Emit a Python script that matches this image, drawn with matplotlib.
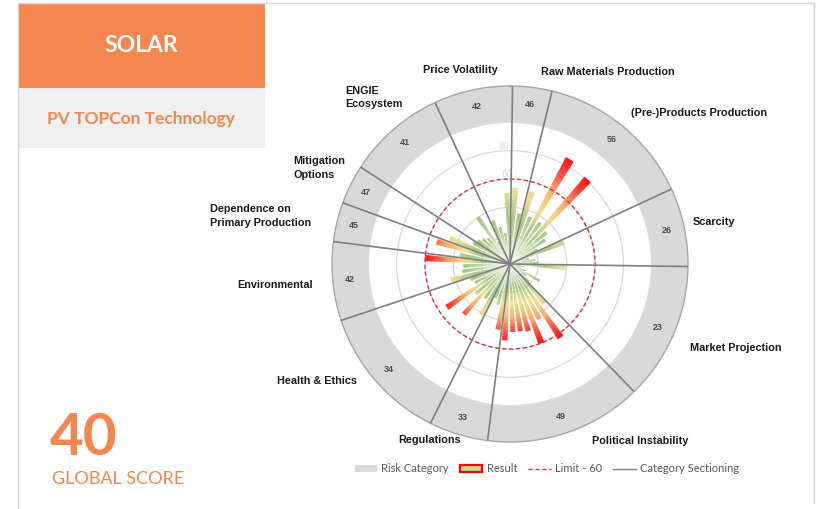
import numpy as np
import matplotlib
matplotlib.use("Agg")
import matplotlib.pyplot as plt
from matplotlib.colors import LinearSegmentedColormap
from matplotlib.patches import Patch, Rectangle
from matplotlib.lines import Line2D


# -----------------------------
# data
# -----------------------------
categories = ["Price Volatility", "Raw Materials Production", "(Pre-)Products Production",
              "Scarcity", "Market Projection", "Political Instability", "Regulations",
              "Health & Ethics", "Environmental", "Dependence on\nPrimary Production",
              "Mitigation\nOptions", "ENGIE\nEcosystem"]
category_scores = [42, 46, 56, 26, 23, 49, 33, 34, 42, 45, 47, 41]

# indicator results per category (clockwise from Price Volatility)
results = [
    [33, 27, 22, 50],
    [54, 36],
    [53, 36, 85, 36, 81, 34, 30, 22],
    [41, 14, 18, 20],
    [40, 10, 8, 12, 24, 14, 18],
    [37, 63, 44, 60, 49, 48, 48, 54],
    [47, 30, 26],
    [41, 30, 48, 32, 54, 28, 30],
    [43, 34, 33, 60],
    [36, 54],
    [46, 30],
    [28, 26, 24, 40, 18],
]
# risk level of each indicator (drives the colour at the bar tip)
severity = [
    [0.32, 0.3, 0.3, 0.45],
    [0.5, 0.32],
    [0.55, 0.3, 1.0, 0.3, 1.0, 0.32, 0.3, 0.3],
    [0.45, 0.3, 0.3, 0.3],
    [0.5, 0.3, 0.3, 0.3, 0.32, 0.3, 0.3],
    [0.6, 1.0, 0.75, 1.0, 0.9, 0.9, 0.88, 0.95],
    [0.85, 0.4, 0.35],
    [0.55, 0.35, 0.85, 0.4, 0.95, 0.32, 0.35],
    [0.5, 0.32, 0.32, 1.0],
    [0.35, 0.8],
    [0.55, 0.32],
    [0.32, 0.3, 0.3, 0.32, 0.3],
]
limit = 60

orange = "#f4874f"

# -----------------------------
# figure + left card
# -----------------------------
W, H = 821, 509
fig = plt.figure(figsize=(W / 100, H / 100), dpi=100)


def fx(x):
    return x / W


def fy(y):
    return 1 - y / H


fig.add_artist(Rectangle((fx(18), fy(88)), 247 / W, 85 / H, transform=fig.transFigure,
                         facecolor=orange, edgecolor="none"))
fig.add_artist(Rectangle((fx(18), fy(148)), 247 / W, 60 / H, transform=fig.transFigure,
                         facecolor="#f0f0f0", edgecolor="none"))
# card outline
fig.add_artist(Line2D([fx(18), fx(18)], [fy(3), fy(509)], transform=fig.transFigure,
                      color="#d6d6d6", lw=1))
fig.add_artist(Line2D([fx(18), fx(814)], [fy(3), fy(3)], transform=fig.transFigure,
                      color="#d6d6d6", lw=1))
fig.add_artist(Line2D([fx(814), fx(814)], [fy(3), fy(503)], transform=fig.transFigure,
                      color="#d6d6d6", lw=1))

fig.text(fx(141), fy(46), "SOLAR", color="white", fontsize=16.5, fontweight="bold",
         family="Lato", ha="center", va="center")
fig.text(fx(141), fy(119), "PV TOPCon Technology", color=orange, fontsize=12.5,
         fontweight="bold", family="Lato", ha="center", va="center")
fig.text(fx(50), fy(455), "40", color=orange, fontsize=42, fontweight="bold",
         family="Lato", ha="left", va="baseline")
fig.text(fx(52), fy(484), "GLOBAL SCORE", color=orange, fontsize=13,
         family="Lato", ha="left", va="baseline")

# -----------------------------
# polar chart
# -----------------------------
cx, cy, R = 510, 264, 178
ax = fig.add_axes([fx(cx - R), fy(cy + R), 2 * R / W, 2 * R / H], projection="polar")
ax.set_theta_zero_location("N")
ax.set_theta_direction(-1)
rmax = 125.6
ax.set_ylim(0, rmax)

counts = [len(r) for r in results]
n_total = sum(counts)
slot = 2 * np.pi / n_total
start = np.deg2rad(-24.9)

vals = np.array([v for r in results for v in r], dtype=float)
sev = np.array([s for r in severity for s in r])
theta = start + (np.arange(n_total) + 0.5) * slot

edges = start + np.concatenate([[0], np.cumsum(counts)]) * slot
sec_mid = (edges[:-1] + edges[1:]) / 2
sec_w = np.diff(edges)

# grey risk-category ring
ax.bar(sec_mid, rmax - 100, width=sec_w, bottom=100, color="#d9d9d9",
       linewidth=0, zorder=1)
for t, s in zip(sec_mid, category_scores):
    ax.text(t, 113.5, str(s), ha="center", va="center", fontsize=6.5,
            color="#4a4a4a", family="Liberation Sans", fontweight="bold", zorder=6)

# gradient bars: stacked thin slices coloured by position along the bar
cmap = LinearSegmentedColormap.from_list("risk", [
    (0.0, "#f6f9f1"), (0.3, "#9fc47a"), (0.5, "#efe08d"),
    (0.7, "#f6a75f"), (0.85, "#f3473a"), (1.0, "#ff0000")])
bar_w = slot * 0.66
dr = 0.5
for r0 in np.arange(0, vals.max(), dr):
    m = vals > r0
    h = np.minimum(dr + 0.2, vals[m] - r0)
    tpos = sev[m] * np.clip((r0 + dr / 2) / vals[m], 0, 1)
    ax.bar(theta[m], h, width=bar_w, bottom=r0, color=cmap(tpos),
           linewidth=0, zorder=3)

# limit circle
circ = np.linspace(0, 2 * np.pi, 400)
ax.plot(circ, np.full_like(circ, limit), color="#e0303a", lw=1, ls=(0, (3, 2)), zorder=4)

# category sectioning
for e in edges[:-1]:
    ax.plot([e, e], [0, rmax], color="#7f7f7f", lw=1.2, zorder=5)

ax.set_xticks([])
ax.set_rgrids([20, 40, 60, 80, 100], labels=["20", "40", "60", "80", "100"],
              angle=-6, color="#d9d9d9", fontsize=6)
ax.yaxis.grid(True, color="#dadada", lw=0.9)
ax.spines["polar"].set_color("#a6a6a6")
ax.spines["polar"].set_linewidth(1)

# category names around the circle
label_pos = [
    (460, 70, "center"), (608, 72, "center"), (699, 113, "center"), (714, 222, "center"),
    (736, 348, "center"), (640, 441, "center"), (430, 440, "center"), (317, 381, "center"),
    (275, 285, "center"), (210, 216, "left"), (293, 168, "left"), (345, 97.5, "left"),
]
for name, (x, y, ha) in zip(categories, label_pos):
    fig.text(fx(x), fy(y), name, ha=ha, va="center", fontsize=7.8, fontweight="bold",
             family="Liberation Sans", color="#1a1a1a", multialignment="left",
             linespacing=1.4)

# legend
handles = [
    Patch(facecolor="#d9d9d9", edgecolor="none"),
    Patch(facecolor="#c9d68c", edgecolor="#ff0000", linewidth=1.6),
    Line2D([], [], color="#e0303a", lw=1, ls=(0, (3, 2))),
    Line2D([], [], color="#808080", lw=1),
]
fig.legend(handles, ["Risk Category", "Result", "Limit - 60", "Category Sectioning"],
           loc="center", bbox_to_anchor=(fx(547), fy(469)), ncol=4, frameon=False,
           prop={"family": "Lato", "size": 8}, labelcolor="#595959",
           handlelength=2.0, handleheight=0.6, handletextpad=0.4, columnspacing=1.0)

fig.savefig("out.png", dpi=100)
